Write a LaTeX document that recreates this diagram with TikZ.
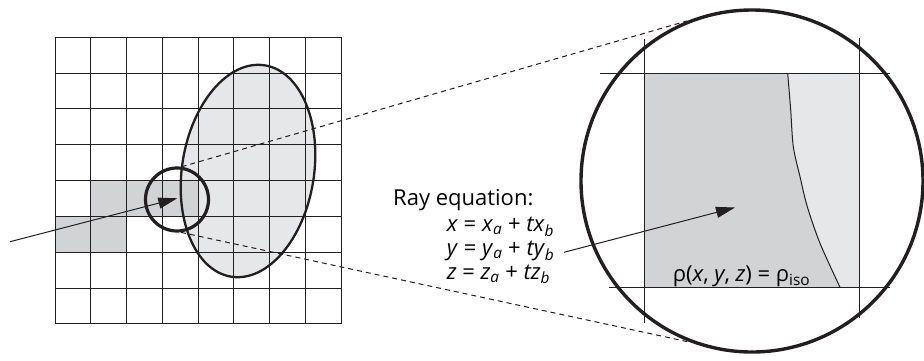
\documentclass[tikz,border=0pt]{standalone}
\usepackage{fontspec}
\setmainfont{Open Sans}
\usetikzlibrary{arrows.meta,positioning,shapes.geometric}
\definecolor{cellgrey}{HTML}{D1D3D4}
\definecolor{isogrey}{HTML}{E6E7E8}
\definecolor{ink}{HTML}{231F20}
\newcommand{\iv}[1]{\textit{#1}}

\begin{document}
\begin{tikzpicture}[x=1pt,y=-1pt,font=\fontsize{22}{26}\selectfont,
  >={Triangle[length=19pt,width=11pt]},
  gridline/.style={ink,line width=1pt},
  zoomline/.style={ink,line width=1pt},
  ray/.style={->,ink,line width=1pt},
  tangent/.style={ink,line width=1pt,dash pattern=on 5pt off 4pt}]
\useasboundingbox (0,0) rectangle (924,360);

% volume grid with the iso-surface blob
\fill[isogrey,rotate around={-9:(248,171)}] (248,171) ellipse [x radius=66, y radius=107];
\fill[cellgrey] (90.75,180.6) rectangle (198,216.4);
\fill[cellgrey] (55,216.4) rectangle (126.5,252.2);
\foreach \i in {0,...,8} {
  \draw[gridline] (55+\i*35.75,37.3) -- (55+\i*35.75,324);
  \draw[gridline] (55,37.3+\i*35.83) -- (341,37.3+\i*35.83);
}
\draw[ink,line width=2.3pt,rotate around={-9:(248,171)}] (248,171) ellipse [x radius=66, y radius=107];

\node[draw=ink,circle,line width=3.2pt,minimum size=63pt,inner sep=0pt] (lens) at (177,199.5) {};

\coordinate (raystart) at (10,241.7);
\coordinate (raytip) at (177.3,198.3);
\draw[ray] (raystart) -- (raytip);

% magnified voxel
\fill[cellgrey] (644.3,73.3) -- plot[smooth] coordinates {(787.7,73.3) (790.7,110) (793.3,146.7) (800,176.7) (807.3,206.7) (820,243.3) (840,287.3)} -- (644.3,287.3) -- cycle;
\fill[isogrey] (859,73.3) -- plot[smooth] coordinates {(787.7,73.3) (790.7,110) (793.3,146.7) (800,176.7) (807.3,206.7) (820,243.3) (840,287.3)} -- (859,287.3) -- cycle;
\draw[zoomline] plot[smooth] coordinates {(787.7,73.3) (790.7,110) (793.3,146.7) (800,176.7) (807.3,206.7) (820,243.3) (840,287.3)};
\draw[ink,line width=1.3pt] (600,73.3) -- (890,73.3);
\draw[ink,line width=1.3pt] (609,287.3) -- (890,287.3);
\draw[zoomline] (644.3,39) -- (644.3,323);
\draw[zoomline] (859,38) -- (859,318);

\node[draw=ink,circle,line width=3.4pt,minimum size=342pt,inner sep=0pt] (zoom) at (752,181) {};

\draw[tangent] (lens.82) -- (zoom.112);
\draw[tangent] (lens.-83) -- (zoom.-111);

% labels
\node[anchor=base west,inner sep=0pt] (raylabel) at (393,205) {Ray equation:};
\node[anchor=base west,inner sep=0pt] (eqx) at (446.7,231.7) {\iv{x} = \iv{x}\textsubscript{\iv{a}} + \iv{tx}\textsubscript{\iv{b}}};
\node[anchor=base west,inner sep=0pt] (eqy) at (446.7,255.5) {\iv{y} = \iv{y}\textsubscript{\iv{a}} + \iv{ty}\textsubscript{\iv{b}}};
\node[anchor=base west,inner sep=0pt] (eqz) at (446.7,279.3) {\iv{z} = \iv{z}\textsubscript{\iv{a}} + \iv{tz}\textsubscript{\iv{b}}};
\node[anchor=base west,inner sep=0pt] (isolabel) at (672.7,281.7) {ρ(\iv{x}, \iv{y}, \iv{z}) = ρ\textsubscript{iso}};

\coordinate (ztail) at (564,252.3);
\coordinate (ztip) at (735,207.5);
\draw[ray] (ztail) -- (ztip);
\end{tikzpicture}
\end{document}
